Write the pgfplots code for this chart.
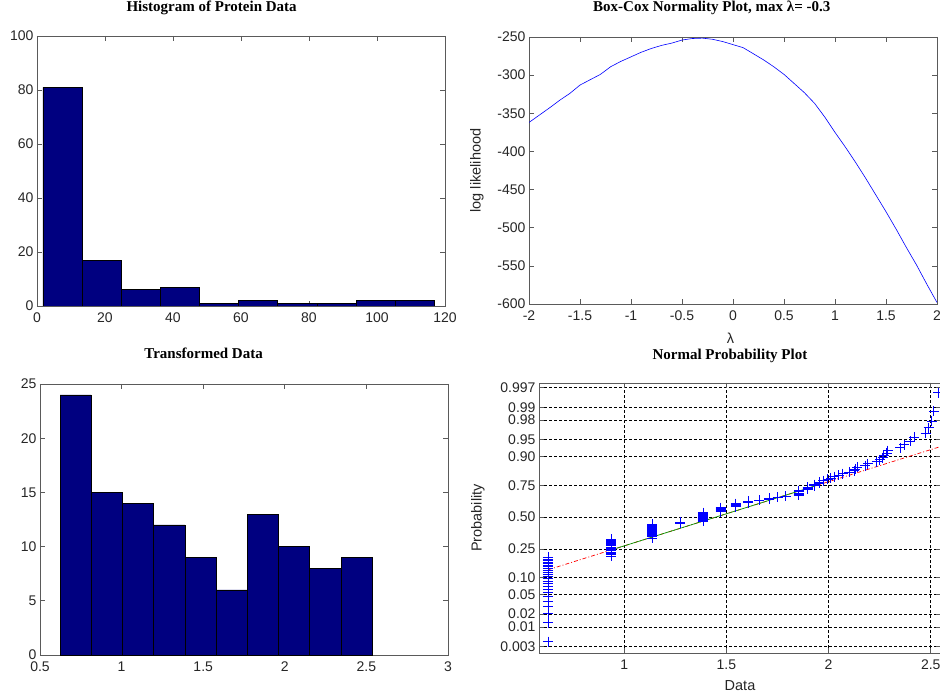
\documentclass[border=0pt]{standalone}
\usepackage{fontspec}
\setmainfont{Liberation Sans}
\newfontfamily\titlefont{Liberation Serif}
\usepackage{pgfplots}
\pgfplotsset{compat=1.18}
\definecolor{navybar}{RGB}{0,0,128}
\definecolor{axgray}{RGB}{90,90,90}
\pgfplotsset{
  mat/.style={
    scale only axis, anchor=south west,
    axis line style={axgray, line width=0.8pt},
    tick style={axgray, line width=0.7pt},
    tick align=inside, major tick length=5pt,
    xtick pos=both, ytick pos=both,
    /pgf/number format/assume math mode=true,
    tick label style={font=\fontsize{14}{14}\selectfont, text=black!85},
    xticklabel style={yshift=-3pt},
    title style={font=\titlefont\bfseries\fontsize{15}{15}\selectfont, anchor=center},
    axis background/.style={fill=white},
  },
}
\begin{document}
\begin{tikzpicture}
\useasboundingbox (0,0) rectangle (940pt,697pt);
% Top left
\begin{axis}[mat, at={(37pt,391pt)}, width=408pt, height=270pt,
  xmin=0, xmax=120, ymin=0, ymax=100,
  xtick={0,20,...,120}, ytick={0,20,...,100},
  title={Histogram of Protein Data},
  title style={at={(axis description cs:0.428,1)}, yshift=22pt}]
\addplot[ybar interval, fill=navybar, draw=black, line width=0.6pt] coordinates {
(1.76,81) (13.27,17) (24.78,6) (36.29,7) (47.80,1) (59.31,2) (70.82,1) (82.33,1) (93.84,2) (105.35,2) (116.86,2)};
\end{axis}
% Top right
\begin{axis}[mat, at={(529pt,393pt)}, width=408pt, height=267pt,
  xmin=-2, xmax=2, ymin=-600, ymax=-250,
  xtick={-2,-1.5,...,2}, ytick={-600,-550,...,-250},
  title={Box-Cox Normality Plot, max λ= -0.3},
  title style={at={(axis description cs:0.448,1)}, yshift=23pt},
  xlabel={λ}, ylabel={log likelihood},
  xlabel style={at={(axis description cs:0.494,0)}, anchor=center, yshift=-34pt, font=\fontsize{14.5}{15}\selectfont, text=black!85},
  ylabel style={at={(axis description cs:-0.1275,0.5)}, anchor=center, font=\fontsize{14.5}{15}\selectfont, text=black!85}]
\addplot[blue, line width=0.6pt] coordinates {
(-2,-362) (-1.8,-343) (-1.7,-333) (-1.6,-324) (-1.5,-313) (-1.4,-306) (-1.3,-299) (-1.2,-289)
(-1.1,-282) (-1.0,-276) (-0.9,-270) (-0.8,-265) (-0.7,-261) (-0.6,-258) (-0.5,-254) (-0.4,-252)
(-0.3,-251.5) (-0.2,-253) (-0.1,-256) (0,-260) (0.1,-264) (0.2,-272) (0.3,-280) (0.4,-289)
(0.5,-299) (0.6,-311) (0.7,-323) (0.8,-337) (0.9,-355) (1.0,-375) (1.1,-394) (1.2,-414)
(1.3,-435) (1.4,-457) (1.5,-479) (1.6,-502) (1.7,-526) (1.8,-549) (1.9,-574) (2.0,-598)};
\end{axis}
% Bottom left
\begin{axis}[mat, at={(40pt,42pt)}, width=408pt, height=271pt,
  xmin=0.5, xmax=3, ymin=0, ymax=25,
  xtick={0.5,1,...,3}, ytick={0,5,...,25},
  title={Transformed Data},
  title style={at={(axis description cs:0.401,1)}, yshift=25pt}]
\addplot[ybar interval, fill=navybar, draw=black, line width=0.6pt] coordinates {
(0.623,24) (0.814,15) (1.006,14) (1.197,12) (1.388,9) (1.580,6) (1.771,13) (1.962,10) (2.153,8) (2.345,9) (2.536,9)};
\end{axis}
% Bottom right
\begin{axis}[mat, at={(539pt,44pt)}, width=402pt, height=270pt,
  xmin=0.583, xmax=2.55, ymin=-2.88, ymax=2.84,
  xtick={1,1.5,2,2.5},
  ytick={-2.748,-2.326,-2.054,-1.645,-1.2816,-0.6745,0,0.6745,1.2816,1.645,2.054,2.326,2.748},
  yticklabels={0.003,0.01,0.02,0.05,0.10,0.25,0.50,0.75,0.90,0.95,0.98,0.99,0.997},
  grid=major, grid style={black, line width=0.7pt, dash pattern=on 3pt off 2pt},
  title={Normal Probability Plot},
  title style={at={(axis description cs:0.475,1)}, yshift=21pt},
  xlabel={Data}, ylabel={Probability},
  xlabel style={at={(axis description cs:0.5,0)}, anchor=center, yshift=-33pt, font=\fontsize{14.5}{15}\selectfont, text=black!85},
  ylabel style={at={(axis description cs:-0.152,0.5)}, anchor=center, font=\fontsize{14.5}{15}\selectfont, text=black!85}]
\addplot[only marks, mark=+, mark size=5pt, blue, mark options={line width=0.8pt}] table {
x q
0.627 -2.6383
0.627 -2.2414
0.627 -2.0368
0.627 -1.8935
0.627 -1.7805
0.627 -1.6867
0.627 -1.6052
0.627 -1.5341
0.627 -1.4687
0.627 -1.4097
0.627 -1.3563
0.627 -1.3052
0.627 -1.2577
0.627 -1.2133
0.627 -1.1709
0.627 -1.1307
0.627 -1.0920
0.627 -1.0548
0.627 -1.0190
0.627 -0.9842
0.627 -0.9502
0.627 -0.9183
0.627 -0.8871
0.627 -0.8565
0.936 -0.8268
0.936 -0.7977
0.936 -0.7698
0.936 -0.7418
0.936 -0.7144
0.936 -0.6876
0.936 -0.6623
0.936 -0.6365
0.936 -0.6109
0.936 -0.5858
0.936 -0.5609
0.936 -0.5359
0.936 -0.5117
0.936 -0.4888
0.936 -0.4649
1.136 -0.4419
1.136 -0.4191
1.136 -0.3964
1.136 -0.3740
1.136 -0.3517
1.136 -0.3296
1.136 -0.3077
1.136 -0.2858
1.136 -0.2642
1.136 -0.2426
1.136 -0.2211
1.136 -0.1998
1.136 -0.1785
1.136 -0.1573
1.275 -0.1362
1.275 -0.1152
1.385 -0.0941
1.385 -0.0732
1.385 -0.0522
1.385 -0.0313
1.385 -0.0104
1.385 0.0104
1.385 0.0313
1.385 0.0522
1.385 0.0732
1.385 0.0941
1.472 0.1152
1.472 0.1362
1.472 0.1573
1.472 0.1785
1.472 0.1998
1.545 0.2211
1.545 0.2426
1.545 0.2642
1.545 0.2858
1.607 0.3077
1.607 0.3296
1.660 0.3517
1.709 0.3740
1.709 0.3964
1.750 0.4191
1.791 0.4419
1.853 0.4649
1.853 0.4888
1.853 0.5117
1.853 0.5359
1.853 0.5609
1.897 0.5858
1.897 0.6109
1.897 0.6365
1.930 0.6623
1.930 0.6876
1.954 0.7144
1.954 0.7418
1.975 0.7698
1.995 0.7977
2.011 0.8268
2.028 0.8565
2.050 0.8871
2.069 0.9183
2.100 0.9502
2.126 0.9842
2.130 1.0190
2.140 1.0548
2.180 1.0920
2.192 1.1307
2.235 1.1709
2.250 1.2133
2.265 1.2577
2.270 1.3052
2.285 1.3563
2.290 1.4097
2.350 1.4687
2.370 1.5341
2.400 1.6052
2.420 1.6867
2.475 1.7805
2.490 1.8935
2.505 2.0368
2.515 2.2414
2.536 2.6383
};
\addplot[red, line width=0.7pt, dash pattern=on 4pt off 2pt on 1pt off 2pt] coordinates {(0.628,-1.116) (2.55,1.497)};
\addplot[green!60!black, line width=0.7pt] coordinates {(0.936,-0.697) (1.93,0.654)};
\end{axis}
\end{tikzpicture}
\end{document}
